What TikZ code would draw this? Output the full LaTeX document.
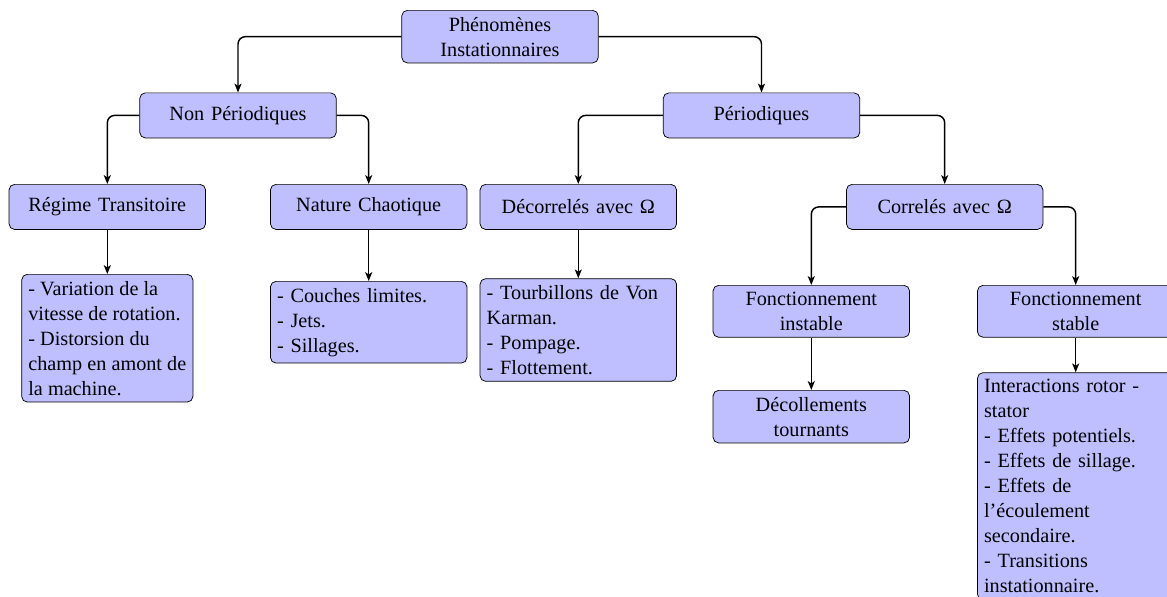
\documentclass[tikz,border=0pt]{standalone}
\usepackage{fontspec}
\setmainfont{Liberation Serif}
\usepackage{tikz}
\usetikzlibrary{arrows.meta}
\tikzset{
  categorie/.style={rectangle,draw,fill=blue!25,rounded corners=3pt,
    text width=3.5cm,align=center,minimum height=24.5pt,inner sep=3.6pt,
    font=\fontsize{11}{13.6}\selectfont},
  detail/.style={categorie,align=left},
  branche/.style={->,>={Stealth[length=4.8pt,width=3.8pt,inset=1.2pt]},thick,rounded corners=4pt},
  arbre/.style={x=0.5435pt,y=-0.5435pt,every node/.style={anchor=north}}
}
\begin{document}
\begin{tikzpicture}[arbre]
      \useasboundingbox (0,0) rectangle (1167,596);
      \clip (0,0) rectangle (1167,596);
      % niveaux 1 et 2
      \node[categorie] (phen) at (500,10) {Phénomènes\\Instationnaires};
      \node[categorie] (nper) at (238,92.5) {Non Périodiques};
      \node[categorie] (per) at (761.5,92.5) {Périodiques};
      % niveau 3
      \node[categorie] (trans) at (107.3,184) {Régime Transitoire};
      \node[categorie] (chao) at (368.7,184) {Nature Chaotique};
      \node[categorie] (decor) at (578.3,184) {Décorrelés avec Ω};
      \node[categorie] (corr) at (944.7,184) {Correlés avec Ω};
      % feuilles
      \node[detail,text width={}] (var) at (107.3,274) {- Variation de la\\vitesse de rotation.\\- Distorsion du\\champ en amont de\\la machine.};
      \node[detail] (couch) at (368.7,281) {- Couches limites.\\- Jets.\\- Sillages.};
      \node[detail] (tourb) at (578.3,278.3) {- Tourbillons de Von\\Karman.\\- Pompage.\\- Flottement.};
      \node[categorie] (inst) at (811.3,285) {Fonctionnement\\instable};
      \node[categorie] (stab) at (1075.7,285) {Fonctionnement\\stable};
      \node[categorie] (decol) at (811.3,390) {Décollements\\tournants};
      \node[detail] (inter) at (1075.7,372.3) {Interactions rotor -\\stator\\- Effets potentiels.\\- Effets de sillage.\\- Effets de\\l’écoulement\\secondaire.\\- Transitions\\instationnaire.};
      % liaisons
      \draw[branche] (phen) -| (nper);
      \draw[branche] (phen) -| (per);
      \draw[branche] (nper) -| (trans);
      \draw[branche] (nper) -| (chao);
      \draw[branche] (per) -| (decor);
      \draw[branche] (per) -| (corr);
      \draw[branche] (corr) -| (inst);
      \draw[branche] (corr) -| (stab);
      \draw[branche] (trans) -- (var);
      \draw[branche] (chao) -- (couch);
      \draw[branche] (decor) -- (tourb);
      \draw[branche] (inst) -- (decol);
      \draw[branche] (stab) -- (inter);
\end{tikzpicture}
\end{document}
